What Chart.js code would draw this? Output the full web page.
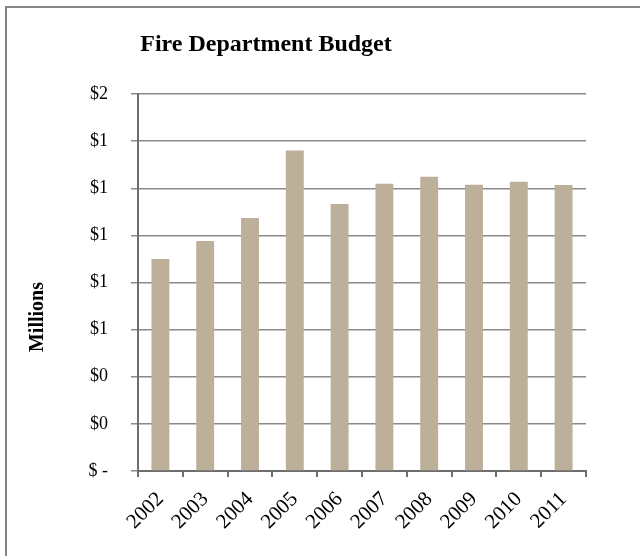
<!DOCTYPE html>
<html>
<head>
<meta charset="utf-8">
<script src="https://cdn.jsdelivr.net/npm/chart.js@4.4.1/dist/chart.umd.min.js"></script>
<style>
  html, body { margin: 0; padding: 0; background: #ffffff; }
  #wrap { position: relative; width: 640px; height: 556px; overflow: hidden; }
  #frame { position: absolute; left: 5px; top: 6px; width: 700px; height: 700px;
           border-left: 2px solid #858585; border-top: 2px solid #858585; pointer-events: none; }
  canvas { display: block; }
</style>
</head>
<body>
<div id="wrap">
  <canvas id="c" width="640" height="556"></canvas>
  <div id="frame"></div>
</div>
<script>
const chartTitle = 'Fire Department Budget';
const yAxisTitle = 'Millions';
const years = ['2002', '2003', '2004', '2005', '2006', '2007', '2008', '2009', '2010', '2011'];
const budgetMillions = [0.900, 0.976, 1.074, 1.360, 1.133, 1.219, 1.249, 1.215, 1.228, 1.214];
const yTickLabels = ['$ -', '$0', '$0', '$1', '$1', '$1', '$1', '$1', '$2'];

const serif = "'Liberation Serif', 'Times New Roman', serif";

const layoutTweaks = {
  id: 'layoutTweaks',
  afterLayout(chart) {
    const tb = chart.titleBlock;
    if (tb) {
      const center = 266;
      const half = (tb.right - tb.left) / 2;
      tb.left = center - half;
      tb.right = center + half;
    }
  },
  afterDraw(chart) {
    const ctx = chart.ctx;
    ctx.save();
    ctx.translate(38, 317);
    ctx.rotate(-Math.PI / 2);
    ctx.font = "bold 20px " + serif;
    ctx.fillStyle = '#000000';
    ctx.textAlign = 'center';
    ctx.textBaseline = 'middle';
    ctx.fillText(yAxisTitle, 0, 0);
    ctx.restore();
  }
};

new Chart(document.getElementById('c'), {
  type: 'bar',
  data: {
    labels: years,
    datasets: [{
      data: budgetMillions,
      backgroundColor: '#bcb09b',
      borderWidth: 0,
      categoryPercentage: 1.0,
      barPercentage: 0.4
    }]
  },
  options: {
    responsive: false,
    animation: false,
    layout: { padding: { left: 0, right: 54, top: 0, bottom: 0 } },
    plugins: {
      legend: { display: false },
      tooltip: { enabled: false },
      title: {
        display: true,
        text: chartTitle,
        color: '#000000',
        font: { family: serif, size: 24, weight: 'bold' },
        padding: { top: 30, bottom: 35.2 }
      }
    },
    scales: {
      x: {
        grid: {
          offset: true,
          drawOnChartArea: false,
          drawTicks: true,
          tickLength: 6,
          color: '#6e6e6e',
          lineWidth: 2
        },
        border: { display: true, color: '#6e6e6e', width: 2 },
        ticks: {
          color: '#000000',
          font: { family: serif, size: 21 },
          maxRotation: 45,
          minRotation: 45,
          padding: 10
        },
        afterFit(scale) { scale.height = 85; }
      },
      y: {
        min: 0,
        max: 1.6,
        grid: {
          color: '#8a8a8a',
          lineWidth: 1.5,
          drawTicks: true,
          tickLength: 7
        },
        border: { display: true, color: '#6e6e6e', width: 2 },
        ticks: {
          stepSize: 0.2,
          color: '#000000',
          font: { family: serif, size: 18 },
          padding: 23,
          callback: (value, index) => yTickLabels[index]
        },
        afterFit(scale) { scale.width = 138; }
      }
    }
  },
  plugins: [layoutTweaks]
});
</script>
</body>
</html>
